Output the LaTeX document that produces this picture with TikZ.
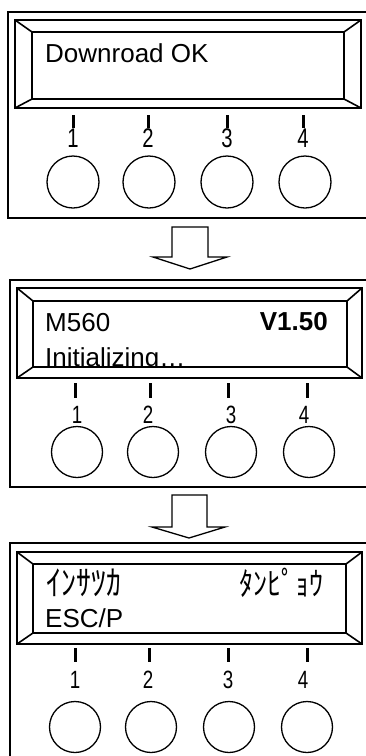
\documentclass[tikz,border=0pt]{standalone}
\usepackage{fontspec}
\setmainfont{Liberation Sans}
\newfontfamily\jpfont{Noto Sans CJK JP}
\newcommand\mylcd[8]{%
  \draw[lcdline] (#1,#2) rectangle (#3,#4);
  \draw[lcdline] (#5,#6) rectangle (#7,#8);
  \draw[lcdline] (#1,#2)--(#5,#6) (#3,#2)--(#7,#6) (#1,#4)--(#5,#8) (#3,#4)--(#7,#8);}
\begin{document}
\begin{tikzpicture}[x=1pt,y=-1pt,
  panel/.style={draw=black,line width=1.1pt},
  lcdline/.style={draw=black,line width=1.6pt},
  btn/.style={circle,draw=black,line width=1.3pt,minimum size=51pt,inner sep=0pt},
  tickmark/.style={draw=black,line width=3pt},
  lcdtext/.style={inner sep=0pt,font=\fontsize{26}{26}\selectfont},
  jptext/.style={inner sep=0pt,font=\fontsize{30}{30}\jpfont,yscale=1.15},
  digit/.style={inner sep=0pt,font=\fontsize{25}{25}\selectfont,xscale=0.75},
  blockarrow/.style={draw=black,line width=1.3pt,fill=white,line join=miter}]
\useasboundingbox (0,0) rectangle (366,756);
\clip (0,0) rectangle (366,756);

% ---------- panel 1 ----------
\draw[panel] (8,12) rectangle (380,218);
\mylcd{15}{20}{361}{108}{32}{32}{344}{99}
\begin{scope}
  \clip (32,32) rectangle (344,99);
  \node[lcdtext,anchor=base west] (t1) at (45,62) {Downroad OK};
\end{scope}
\foreach \x/\i in {73/1,148/2,227/3,303/4}{
  \draw[tickmark] (\x,115)--(\x,128);
  \node[digit,font=\fontsize{27}{27}\selectfont,anchor=base] (n1\i) at (\x,147) {\i};
}
\foreach \x/\i in {73/1,149/2,227/3,305/4}{
  \node[btn,minimum size=52pt] (b1\i) at (\x,182) {};
}

% arrow 1
\draw[blockarrow] (172,227)--(172,257)--(153,257)--(190,269)--(227,257)--(208,257)--(208,227)--cycle;

% ---------- panel 2 ----------
\draw[panel] (10,280) rectangle (380,487);
\mylcd{17}{288}{362}{378}{33}{301}{347}{367}
\begin{scope}
  \clip (33,301) rectangle (347,367);
  \node[lcdtext,anchor=base west] (t2a) at (45,331) {M560};
  \node[lcdtext,anchor=base east,font=\fontsize{26}{26}\selectfont\bfseries] (t2b) at (328,330) {V1.50};
  \node[lcdtext,anchor=base west] (t2c) at (45,366) {Initializing…};
\end{scope}
\foreach \x/\i in {75/1,150/2,228/3,307/4}{
  \draw[tickmark] (\x,383)--(\x,398);
}
\foreach \x/\i in {77/1,148/2,231/3,304/4}{
  \node[digit,anchor=base] (n2\i) at (\x,423) {\i};
}
\foreach \x/\i in {77/1,153/2,231/3,309/4}{
  \node[btn] (b2\i) at (\x,452) {};
}

% arrow 2
\draw[blockarrow] (172,495)--(172,527)--(152,527)--(189,538)--(225,527)--(207,527)--(207,495)--cycle;

% ---------- panel 3 ----------
\draw[panel] (10,543) rectangle (380,780);
\mylcd{17}{552}{362}{644}{33}{564}{346}{633}
\begin{scope}
  \clip (33,564) rectangle (346,633);
  \node[jptext,anchor=base west] (t3a) at (46,595) {ｲﾝｻﾂｶ};
  \node[jptext,anchor=base west,font=\fontsize{28}{28}\jpfont] (t3b) at (239,595) {ﾀﾝﾋﾟｮｳ};
  \node[lcdtext,anchor=base west] (t3c) at (45,627) {ESC/P};
\end{scope}
\foreach \x/\i in {75/1,149/2,228/3,307/4}{
  \draw[tickmark] (\x,648)--(\x,662);
}
\foreach \x/\i in {75/1,148/2,228/3,303/4}{
  \node[digit,anchor=base] (n3\i) at (\x,688) {\i};
}
\foreach \x/\i in {75/1,151/2,229/3,307/4}{
  \node[btn] (b3\i) at (\x,727) {};
}
\end{tikzpicture}
\end{document}
